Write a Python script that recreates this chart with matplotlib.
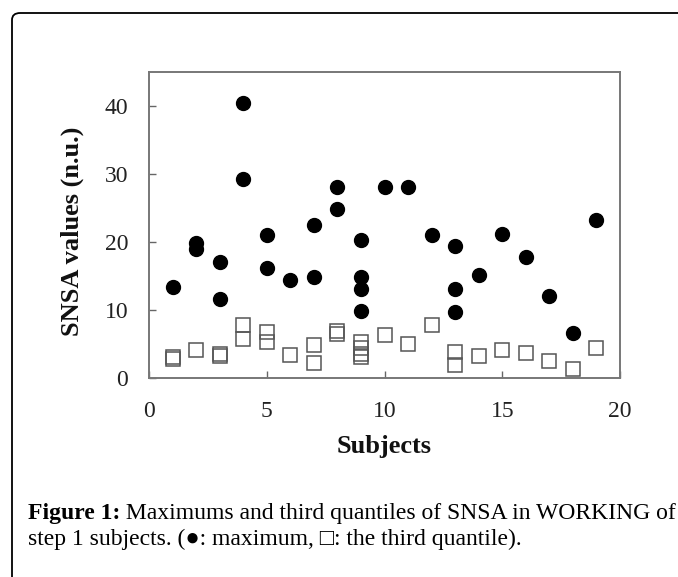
import matplotlib
matplotlib.use("Agg")
import matplotlib.pyplot as plt
from matplotlib.patches import FancyBboxPatch

# ---- data ----
max_x = [1, 2, 2, 3, 3, 4, 4, 5, 5, 6, 7, 7, 8, 8, 9, 9, 9, 9,
         10, 11, 12, 13, 13, 13, 14, 15, 16, 17, 18, 19]
max_y = [13.4, 19.8, 18.9, 17.0, 11.5, 40.4, 29.3, 21.0, 16.1, 14.3,
         22.4, 14.8, 28.0, 24.8, 20.2, 14.8, 13.1, 9.8,
         28.1, 28.1, 21.0, 19.4, 13.0, 9.7, 15.1, 21.2, 17.8, 12.0, 6.6, 23.2]

q3_x = [1, 1, 2, 3, 3, 4, 4, 5, 5, 6, 7, 7, 8, 8, 9, 9, 9, 9,
        10, 11, 12, 13, 13, 14, 15, 16, 17, 18, 19]
q3_y = [3.0, 2.7, 4.1, 3.4, 3.1, 7.7, 5.6, 6.7, 5.3, 3.3, 4.8, 2.1, 6.9, 6.4,
        5.2, 4.4, 3.4, 3.0, 6.3, 5.0, 7.7, 3.7, 1.8, 3.1, 4.1, 3.6, 2.5, 1.2, 4.4]

x_ticks = [0, 5, 10, 15, 20]
y_ticks = [0, 10, 20, 30, 40]

x_label = "Subjects"
y_label = "SNSA values (n.u.)"
caption_bold = "Figure 1:"
caption_line1 = " Maximums and third quantiles of SNSA in WORKING of"
caption_line2 = "step 1 subjects. (\u25cf: maximum, \u25a1: the third quantile)."

W, H = 678, 577
fig = plt.figure(figsize=(W / 100, H / 100), dpi=100)

serif = ["Liberation Serif", "DejaVu Serif"]

# rounded frame (clipped by the right and bottom edges)
frame = FancyBboxPatch((12 / W, 1 - 600 / H), 700 / W, (600 - 13) / H,
                       boxstyle="round,pad=0,rounding_size=0.012",
                       transform=fig.transFigure, fill=False,
                       edgecolor="black", linewidth=1.3)
fig.patches.append(frame)

ax_bottom, ax_top = 377.5, 72
ax = fig.add_axes([149 / W, 1 - ax_bottom / H, (620 - 149) / W,
                   (ax_bottom - ax_top) / H])
ax.plot(max_x, max_y, linestyle="none", marker="o", markersize=10,
        markerfacecolor="black", markeredgecolor="black", clip_on=False)
ax.plot(q3_x, q3_y, linestyle="none", marker="s", markersize=9.8,
        markerfacecolor="none", markeredgecolor="#555555",
        markeredgewidth=1.1, clip_on=False)

ax.set_xlim(0, 20)
ax.set_ylim(0, 45)
ax.set_xticks(x_ticks)
ax.set_yticks(y_ticks)
ax.tick_params(direction="in", length=5, width=1, color="#666666",
               labelsize=17)
ax.tick_params(axis="x", pad=17)
ax.tick_params(axis="y", pad=15)
for lab in ax.get_xticklabels() + ax.get_yticklabels():
    lab.set_family(serif)
    lab.set_color("#222222")
for s in ax.spines.values():
    s.set_color("#777777")
    s.set_linewidth(1.4)

ax.set_xlabel(x_label, fontsize=19, fontweight="bold", family=serif,
              color="#111111", va="center")
ax.set_ylabel(y_label, fontsize=19, fontweight="bold", family=serif,
              color="#111111", va="center")
hpx = ax_bottom - ax_top
ax.xaxis.set_label_coords(0.5, (ax_bottom - 446) / hpx)
ax.yaxis.set_label_coords((72 - 149) / 471, (ax_bottom - 231) / hpx)

# caption
t1 = fig.text(28 / W, 1 - 519 / H, caption_bold, fontsize=17,
              fontweight="bold", family=serif, va="baseline", ha="left")
ax.annotate(caption_line1, xy=(1, 0), xycoords=t1, va="bottom", ha="left",
            fontsize=17, family=serif, annotation_clip=False)
fig.text(28 / W, 1 - 545 / H, caption_line2, fontsize=17, family=serif,
         va="baseline", ha="left")

fig.savefig("out.png", dpi=100)
